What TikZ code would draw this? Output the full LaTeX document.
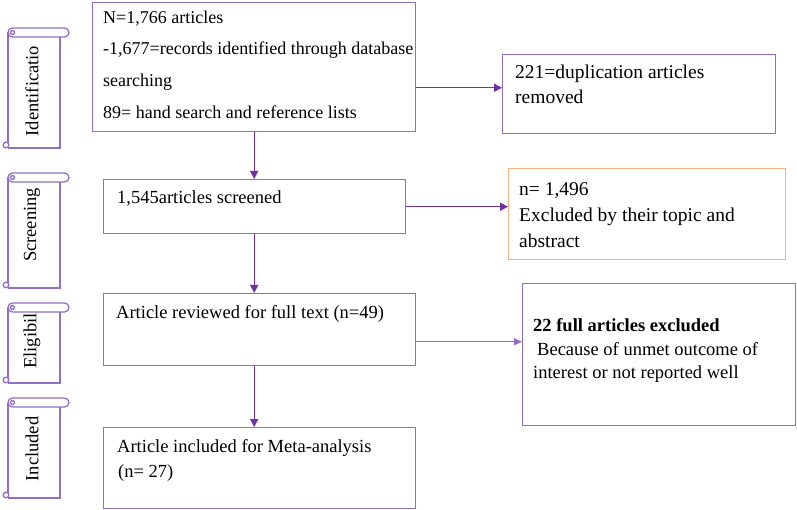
\documentclass[tikz,border=0pt]{standalone}
\usepackage{fontspec}
\setmainfont{Liberation Serif}
\usetikzlibrary{arrows.meta,calc}
\definecolor{boxpurple}{RGB}{146,110,200}
\definecolor{arrpurple}{RGB}{112,48,160}
\definecolor{lightarr}{RGB}{150,105,195}
\definecolor{boxorange}{RGB}{244,177,131}
\tikzset{
  box/.style={draw=boxpurple, line width=1.4pt, anchor=north west, inner sep=0pt},
  obox/.style={draw=boxorange, line width=1.4pt, anchor=north west, inner sep=0pt},
  txt/.style={anchor=north west, inner sep=0pt, align=left},
  arr/.style={draw=arrpurple, line width=1.4pt, -{Triangle[length=8pt,width=8pt]}},
  arrlight/.style={draw=lightarr, line width=1pt, -{Triangle[length=8pt,width=7pt]}},
  scrollline/.style={draw=boxpurple, line width=1.3pt},
  lab/.style={inner sep=0pt, rotate=90, font=\fontsize{18.5}{20}\selectfont}
}
\newcommand\drawscrollshape[2]{%
  \draw[scrollline, rounded corners=4.5pt] (8,#1) rectangle (69,#1+9);
  \draw[scrollline] (8,#1+4.5) -- (8,#2-5);
  \draw[scrollline] (60,#1+9) -- (60,#2) -- (8,#2);
  \draw[scrollline] (12.5,#1+4.5) circle[radius=2];
  \draw[scrollline] (6,#2-3) circle[radius=2.8];
}
\begin{document}
\begin{tikzpicture}[x=1pt,y=-1pt]
\useasboundingbox (0,0) rectangle (797,510);

% scrolls
\drawscrollshape{28}{148}
\drawscrollshape{173}{288}
\drawscrollshape{303}{383}
\drawscrollshape{398}{498}
\node[lab] (l1) at (32,91) {Identificatio};
\node[lab] (l2) at (32,225) {Screening};
\node[lab] (l3) at (32,341) {Eligibil};
\node[lab] (l4) at (32,449) {Included};

% boxes
\node[box, minimum width=323pt, minimum height=129pt] (b1) at (92,2) {};
\node[box, minimum width=273pt, minimum height=79pt] (r1) at (502,54) {};
\node[box, minimum width=302pt, minimum height=54pt] (b2) at (103,179) {};
\node[obox, minimum width=277pt, minimum height=91pt] (r2) at (508,168) {};
\node[box, minimum width=312pt, minimum height=72pt] (b3) at (103,293) {};
\node[box, minimum width=273pt, minimum height=142pt] (r3) at (522,283) {};
\node[box, minimum width=312pt, minimum height=81pt] (b4) at (103,427) {};

% texts
\node[txt, font=\fontsize{18}{31.7}\selectfont] (t1) at (103,10.5)
  {N=1,766 articles\\-1,677=records identified through database\\searching\\89= hand search and reference lists};
\node[txt, font=\fontsize{19.5}{25}\selectfont] (t2) at (515,65)
  {221=duplication articles\\removed};
\node[txt, font=\fontsize{18.5}{25}\selectfont] (t3) at (117,190.5)
  {1,545articles screened};
\node[txt, font=\fontsize{19.5}{26}\selectfont] (t4) at (519,182)
  {n= 1,496\\Excluded by their topic and\\abstract};
\node[txt, font=\fontsize{18.5}{25}\selectfont] (t5) at (116,305.5)
  {Article reviewed for full text (n=49)};
\node[txt, font=\fontsize{18.5}{23.5}\selectfont] (t6) at (533,318.5)
  {\textbf{22 full articles excluded}\\\hspace*{4pt}Because of unmet outcome of\\interest or not reported well};
\node[txt, font=\fontsize{18.5}{25}\selectfont] (t7) at (117,439.5)
  {Article included for Meta-analysis\\\hspace*{1pt}(n= 27)};

% connectors
\draw[arr] (b1.south) -- (b1.south |- b2.north);
\draw[arr] (b1.south |- b2.south) -- (b1.south |- b3.north);
\draw[arr] (b1.south |- b3.south) -- (b1.south |- b4.north);
\coordinate (a1) at ($(r1.north west)!0.42!(r1.south west)$);
\draw[arr] (b1.east |- a1) -- (a1);
\draw[arr] (b2.east) -- (b2.east -| r2.west);
\coordinate (a3) at ($(r3.north west)!0.41!(r3.south west)$);
\draw[arrlight] (b3.east |- a3) -- (a3);
\end{tikzpicture}
\end{document}
